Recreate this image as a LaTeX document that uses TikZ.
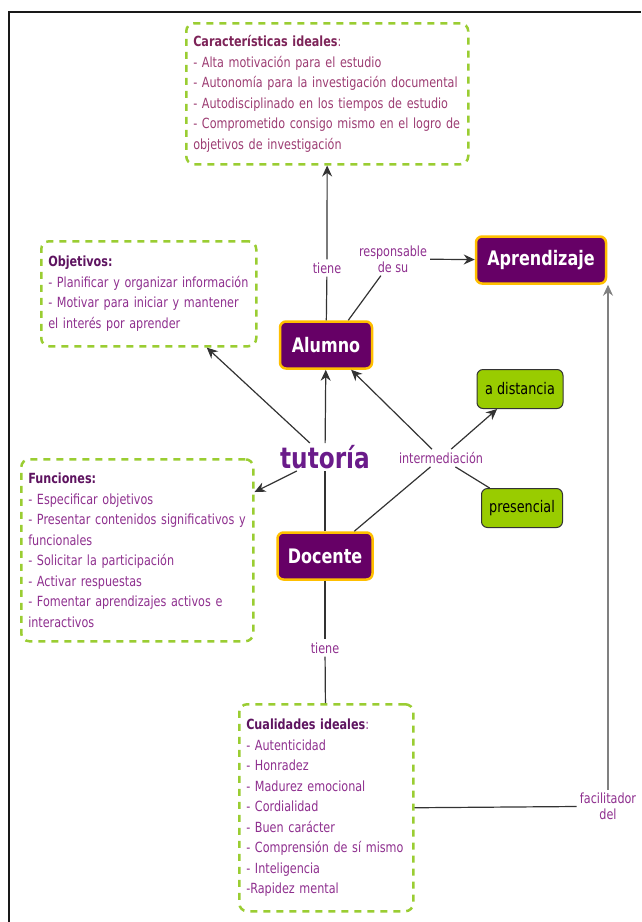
\documentclass[tikz,border=0pt]{standalone}
\usepackage{fontspec}
\setmainfont{DejaVu Sans}[FakeStretch=0.8]
\usetikzlibrary{arrows.meta}
\definecolor{plumFill}{HTML}{660066}
\definecolor{goldLine}{HTML}{FFBF00}
\definecolor{limeFill}{HTML}{99CC00}
\definecolor{dashGreen}{HTML}{9ACD32}
\definecolor{bodyPlum}{HTML}{8E2F8E}
\definecolor{titlePlum}{HTML}{5E1460}
\definecolor{rosePlum}{HTML}{9C3C72}
\definecolor{roseTitle}{HTML}{7D2358}
\definecolor{tutorPlum}{HTML}{6A1B8A}
\begin{document}
\begin{tikzpicture}
[x=1pt,y=-1pt,
  conceptDecorate/.style={shape=rectangle,rounded corners=6pt,fill=plumFill,draw=goldLine,line width=2.5pt,text=white,font=\fontsize{20}{24}\selectfont\bfseries},%
  modeDecorate/.style={shape=rectangle,rounded corners=6pt,fill=limeFill,draw=black!80,line width=1pt,font=\fontsize{16}{19}\selectfont},%
  noteDecorate/.style={draw=dashGreen,dash pattern=on 7pt off 6pt,line width=2.5pt,rounded corners=8pt,anchor=north west,align=left,inner xsep=7pt,inner ysep=0pt,font=\fontsize{14}{20.5}\selectfont,text=bodyPlum},%
  linkDecorate/.style={align=center,inner sep=3pt,text=bodyPlum,font=\fontsize{14}{16}\selectfont},%
  lineDecorate/.style={draw=black!80,line width=1.2pt},%
  arrowDecorate/.style={lineDecorate,-{Stealth[length=11pt,width=10pt]}}]
\useasboundingbox (0,0) rectangle (641,922);
\draw[line width=2.5pt,black!90] (9,922) -- (9,12) -- (641,12);
%% concepts
\foreach \nodename/\nodetext/\x/\y/\w in {alumno/Alumno/326/345/92, aprendizaje/Aprendizaje/541/260/130, docente/Docente/325/556/95}
{
  \node (\nodename) at (\x,\y) [conceptDecorate,minimum width=\w pt,minimum height=47pt] {\nodetext};
}
\foreach \nodename/\nodetext/\x/\y/\w in {adistancia/a distancia/520/389/86, presencial/presencial/522/508/81}
{
  \node (\nodename) at (\x,\y) [modeDecorate,minimum width=\w pt,minimum height=39pt] {\nodetext};
}
\node (tutoria) at (325,457) [text=tutorPlum,inner sep=2pt,font=\fontsize{29}{30}\selectfont\bfseries] {tutoría};
%% linking words
\node (tieneA) at (327,268) [linkDecorate] {tiene};
\node (responsable) at (393,259) [linkDecorate] {responsable\\de su};
\node (intermediacion) at (441,458) [linkDecorate] {intermediación};
\node (tieneD) at (325,648) [linkDecorate] {tiene};
\node (facilitador) at (608,806.5) [linkDecorate] {facilitador\\del};
%% notes
\node (caracteristicas) at (185,22) [noteDecorate,text=rosePlum,text width=268pt,minimum height=141pt]
  {{\bfseries\color{roseTitle}Características ideales}:\\
   - Alta motivación para el estudio\\
   - Autonomía para la investigación documental\\
   - Autodisciplinado en los tiempos de estudio\\
   - Comprometido consigo mismo en el logro de\\
   objetivos de investigación};
\node (objetivos) at (40,240) [noteDecorate,text width=201pt,minimum height=105pt]
  {{\bfseries\color{titlePlum}Objetivos:}\\
   - Planificar y organizar información\\
   - Motivar para iniciar y mantener\\
   el interés por aprender};
\node (funciones) at (20,458) [noteDecorate,text width=218pt,minimum height=182pt]
  {{\bfseries\color{titlePlum}Funciones:}\\
   - Especificar objetivos\\
   - Presentar contenidos significativos y\\
   funcionales\\
   - Solicitar la participación\\
   - Activar respuestas\\
   - Fomentar aprendizajes activos e\\
   interactivos};
\node (cualidades) at (238,703) [noteDecorate,text width=160pt,minimum height=207pt]
  {{\bfseries\color{titlePlum}Cualidades ideales}:\\
   - Autenticidad\\
   - Honradez\\
   - Madurez emocional\\
   - Cordialidad\\
   - Buen carácter\\
   - Comprensión de sí mismo\\
   - Inteligencia\\
   -Rapidez mental};
%% edges or lines
\path
\foreach \startnode/\endnode in {alumno/tieneA, alumno.48/responsable, docente/tutoria, docente/intermediacion, intermediacion/presencial, docente/tieneD, tieneD/cualidades, cualidades.east/facilitador.west}
{
  (\startnode) edge[lineDecorate] (\endnode)
};
\path
\foreach \startnode/\endnode in {tieneA/caracteristicas, responsable/aprendizaje, tutoria/alumno, tutoria/objetivos, tutoria/funciones, intermediacion/alumno, intermediacion/adistancia}
{
  (\startnode) edge[arrowDecorate] (\endnode)
};
\draw[arrowDecorate,draw=black!50] (facilitador) -- (facilitador |- aprendizaje.south);
\end{tikzpicture}
\end{document}
